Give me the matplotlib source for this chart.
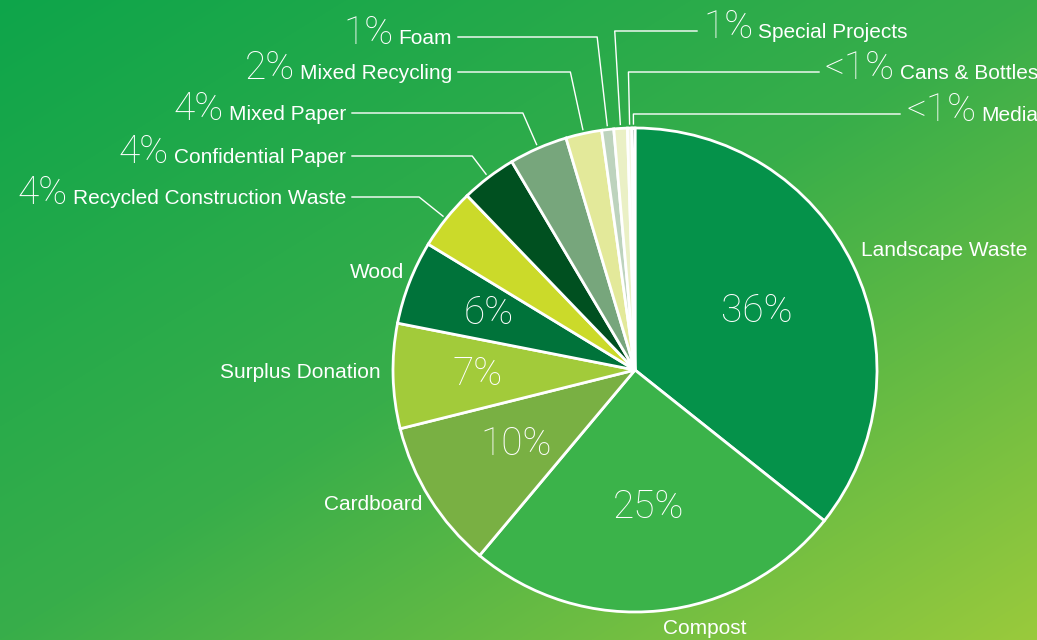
import numpy as np
import matplotlib
matplotlib.use('Agg')
import matplotlib.pyplot as plt
from matplotlib.colors import to_rgb

# share of diverted waste by stream, clockwise from the top
categories = ['Landscape Waste', 'Compost', 'Cardboard', 'Surplus Donation', 'Wood',
              'Recycled Construction Waste', 'Confidential Paper', 'Mixed Paper',
              'Mixed Recycling', 'Foam', 'Special Projects', 'Cans & Bottles', 'Media']
shares = [35.7, 25.4, 10.0, 7.0, 5.6, 4.1, 3.7, 3.9, 2.4, 0.8, 0.9, 0.3, 0.2]
colors = ['#05924a', '#3bb34a', '#79b043', '#a2cb3a', '#00733a', '#cbda2a', '#005020',
          '#77a67c', '#e3e99a', '#bdd3bd', '#eaf0c5', '#f4f6e4', '#0b3b1e']

W, H = 1037, 640
CX, CY, R = 635, 270, 242

# labels printed inside the wedge: name -> fraction of radius
inside = {'Landscape Waste': 0.56, 'Compost': 0.57, 'Cardboard': 0.58,
          'Surplus Donation': 0.65, 'Wood': 0.65}
# plain name labels beside the pie: x, y(from top), alignment
names = {'Landscape Waste': (861, 250, 'left'), 'Compost': (705, 628, 'center'),
         'Cardboard': (422, 505, 'right'), 'Surplus Donation': (381, 372, 'right'),
         'Wood': (404, 272, 'right')}
# callouts: line y (from top), text x, side
callouts = {'Recycled Construction Waste': (197, 346, 'left'),
            'Confidential Paper': (156, 346, 'left'),
            'Mixed Paper': (113, 346, 'left'),
            'Mixed Recycling': (72, 452, 'left'),
            'Foam': (37, 452, 'left'),
            'Special Projects': (31, 703, 'right'),
            'Cans & Bottles': (72, 825, 'right'),
            'Media': (114, 906, 'right')}

PCT_FONT = dict(family=['Roboto', 'DejaVu Sans'], weight=200, color='white')
NAME_FONT = dict(family=['Liberation Sans', 'DejaVu Sans'], color='white')
PCT_SIZE = 28
NAME_SIZE = 15


def pct_text(v):
    if round(v) < 1:
        return '<1%'
    return '%d%%' % round(v)


def background():
    xs = np.linspace(0, 1, W)
    ys = np.linspace(0, 1, H)
    t = (xs[None, :] + ys[:, None]) / 2
    stops = [0.0, 0.5, 1.0]
    cols = np.array([to_rgb('#0ea54b'), to_rgb('#38ae4a'), to_rgb('#9aca3c')])
    img = np.zeros((H, W, 3))
    for c in range(3):
        img[:, :, c] = np.interp(t, stops, cols[:, c])
    return img


def main():
    fig = plt.figure(figsize=(W / 100, H / 100), dpi=100)
    ax = fig.add_axes([0, 0, 1, 1])
    ax.imshow(background(), extent=[0, W, 0, H], origin='upper', zorder=0)

    ax.pie(shares, colors=colors, startangle=90, counterclock=False,
           center=(CX, CY), radius=R, frame=True,
           wedgeprops=dict(edgecolor='white', linewidth=2))

    # mid angle of each wedge, measured clockwise from the top
    bounds = np.cumsum([0] + shares) / sum(shares) * 2 * np.pi
    mids = (bounds[:-1] + bounds[1:]) / 2

    fig.canvas.draw()
    renderer = fig.canvas.get_renderer()

    for name, v, a in zip(categories, shares, mids):
        if name in inside:
            d = inside[name] * R
            ax.text(CX + d * np.sin(a), CY + d * np.cos(a), pct_text(v),
                    ha='center', va='center', fontsize=PCT_SIZE, **PCT_FONT)
        if name in names:
            x, y, ha = names[name]
            ax.text(x, H - y, name, ha=ha, va='center', fontsize=NAME_SIZE, **NAME_FONT)
        if name in callouts:
            ly, tx, side = callouts[name]
            ly = H - ly
            # radial leg from the rim up to the label row, then horizontal
            x0, y0 = CX + (R + 4) * np.sin(a), CY + (R + 4) * np.cos(a)
            ex = x0 + (ly - y0) * np.tan(a)
            base = ly - 7
            if side == 'left':
                ax.plot([x0, ex, tx + 6], [y0, ly, ly], color='white', lw=1)
                t = ax.text(tx, base, name, ha='right', va='baseline',
                            fontsize=NAME_SIZE, **NAME_FONT)
                left = t.get_window_extent(renderer).x0
                ax.text(left - 5, base, pct_text(v), ha='right', va='baseline',
                        fontsize=PCT_SIZE, **PCT_FONT)
            else:
                ax.plot([x0, ex, tx - 6], [y0, ly, ly], color='white', lw=1)
                t = ax.text(tx, base, pct_text(v), ha='left', va='baseline',
                            fontsize=PCT_SIZE, **PCT_FONT)
                right = t.get_window_extent(renderer).x1
                ax.text(right + 5, base, name, ha='left', va='baseline',
                        fontsize=NAME_SIZE, **NAME_FONT)

    ax.set_xlim(0, W)
    ax.set_ylim(0, H)
    ax.axis('off')
    fig.savefig('out.png', dpi=100)


if __name__ == '__main__':
    main()
